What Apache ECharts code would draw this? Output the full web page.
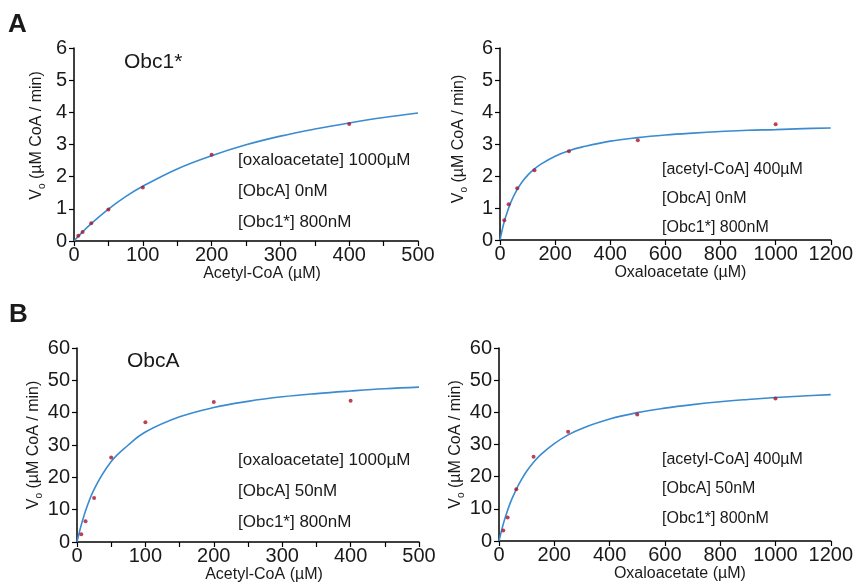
<!DOCTYPE html>
<html>
<head>
<meta charset="utf-8">
<script src="https://cdn.jsdelivr.net/npm/echarts@6/dist/echarts.min.js"></script>
<style>
  html, body { margin: 0; padding: 0; background: #fff; }
  #chart { width: 856px; height: 584px; }
</style>
</head>
<body>
<div id="chart"></div>
<script>
// Substrate concentrations (µM) and initial rates (µM CoA / min)
const acetylCoA = [6.25, 12.5, 25, 50, 100, 200, 400];
const oxaloacetate = [15.6, 31.25, 62.5, 125, 250, 500, 1000];

const rateObc1Acetyl = [0.16, 0.28, 0.55, 0.98, 1.66, 2.68, 3.64];
const rateObc1Oxalo = [0.62, 1.12, 1.62, 2.18, 2.77, 3.12, 3.62];
const rateObcAAcetyl = [2.4, 6.4, 13.6, 26.1, 37.0, 43.3, 43.7];
const rateObcAOxalo = [3.3, 7.3, 16.1, 26.2, 34.0, 39.3, 44.3];

// Fitted saturation curves
const fitAcetylX = [0, 10, 25, 50, 75, 100, 150, 200, 250, 300, 350, 400, 450, 500];
const fitObc1AcetylY = [0, 0.23, 0.54, 0.99, 1.38, 1.70, 2.24, 2.65, 2.99, 3.26, 3.48, 3.67, 3.84, 3.98];
const fitObcAAcetylY = [0, 8.0, 16.3, 24.9, 30.0, 34.0, 38.7, 41.6, 43.5, 44.9, 45.9, 46.7, 47.4, 47.9];

const fitOxaloX = [0, 10, 20, 40, 60, 80, 100, 125, 150, 200, 250, 300, 400, 500, 600, 700, 800, 900, 1000, 1100, 1200];
const fitObc1OxaloY = [0, 0.39, 0.71, 1.19, 1.54, 1.81, 2.02, 2.22, 2.38, 2.62, 2.79, 2.91, 3.09, 3.20, 3.28, 3.34, 3.39, 3.43, 3.45, 3.48, 3.50];
const fitObcAOxaloY = [0, 3.5, 6.6, 11.7, 15.6, 18.9, 21.7, 24.5, 26.8, 30.3, 33.0, 35.0, 37.9, 39.9, 41.3, 42.4, 43.3, 44.0, 44.6, 45.1, 45.5];

const xTitles = ['Acetyl-CoA (µM)', 'Oxaloacetate (µM)', 'Acetyl-CoA (µM)', 'Oxaloacetate (µM)'];
const enzymeLabels = ['Obc1*', 'ObcA'];
const conditionsA = [
  ['[oxaloacetate] 1000µM', '[ObcA] 0nM', '[Obc1*] 800nM'],
  ['[acetyl-CoA] 400µM', '[ObcA] 0nM', '[Obc1*] 800nM']
];
const conditionsB = [
  ['[oxaloacetate] 1000µM', '[ObcA] 50nM', '[Obc1*] 800nM'],
  ['[acetyl-CoA] 400µM', '[ObcA] 50nM', '[Obc1*] 800nM']
];

const FONT = '"Liberation Sans", Arial, Helvetica, sans-serif';
const TEXT = '#1a1a1a';
const CURVE = '#3a8bd0';
const DOT = '#a8142c';

const zip = (xs, ys) => xs.map((x, i) => [x, ys[i]]);

const grids = [
  { left: 74, top: 48, width: 344, height: 193 },
  { left: 500, top: 48, width: 342, height: 192 },
  { left: 77, top: 348, width: 342, height: 194 },
  { left: 499, top: 348, width: 342, height: 193 }
];

const xCfg = [
  { max: 500, interval: 100, minor: true, shift: 32 },
  { max: 1200, interval: 200, minor: false, shift: 30 },
  { max: 500, interval: 100, minor: true, shift: 32 },
  { max: 1200, interval: 200, minor: false, shift: 30 }
];
const yCfg = [
  { max: 6, interval: 1, shift: 18, gap: 27 },
  { max: 6, interval: 1, shift: 10, gap: 31 },
  { max: 60, interval: 10, shift: 0, gap: 30 },
  { max: 60, interval: 10, shift: 0, gap: 30 }
];

const axisLine = { show: true, lineStyle: { color: '#000', width: 1.5 } };
const plain = v => String(v);

const xAxis = xCfg.map((c, i) => ({
  type: 'value', gridIndex: i, min: 0, max: c.max, interval: c.interval,
  name: xTitles[i], nameLocation: 'middle', nameGap: 21,
  nameTextStyle: { fontFamily: FONT, fontSize: 16, color: TEXT, padding: [0, 0, 0, c.shift] },
  axisLine: axisLine,
  axisTick: { show: true, length: 5, lineStyle: { color: '#000', width: 1.2 } },
  minorTick: { show: c.minor, splitNumber: 2, length: 5, lineStyle: { color: '#000', width: 1.2 } },
  axisLabel: { fontFamily: FONT, fontSize: 20, color: TEXT, margin: 4, formatter: plain },
  splitLine: { show: false }
}));

const yAxis = yCfg.map((c, i) => ({
  type: 'value', gridIndex: i, min: 0, max: c.max, interval: c.interval,
  name: '{a|V}{b|o}{a| (µM CoA / min)}', nameLocation: 'middle', nameGap: c.gap,
  nameTextStyle: {
    padding: [0, 0, 0, c.shift],
    rich: {
      a: { fontFamily: FONT, fontSize: 16, color: TEXT, lineHeight: 20 },
      b: { fontFamily: FONT, fontSize: 10, color: TEXT, lineHeight: 20, verticalAlign: 'bottom', padding: [6, 0, 0, 0] }
    }
  },
  axisLine: axisLine,
  axisTick: { show: true, length: 5, lineStyle: { color: '#000', width: 1.2 } },
  axisLabel: { fontFamily: FONT, fontSize: 20, color: TEXT, margin: 7, formatter: plain },
  splitLine: { show: false }
}));

const pointsSets = [
  zip(acetylCoA, rateObc1Acetyl),
  zip(oxaloacetate, rateObc1Oxalo),
  zip(acetylCoA, rateObcAAcetyl),
  zip(oxaloacetate, rateObcAOxalo)
];
const curveSets = [
  zip(fitAcetylX, fitObc1AcetylY),
  zip(fitOxaloX, fitObc1OxaloY),
  zip(fitAcetylX, fitObcAAcetylY),
  zip(fitOxaloX, fitObcAOxaloY)
];

const series = [];
for (let i = 0; i < 4; i++) {
  series.push({
    type: 'line', xAxisIndex: i, yAxisIndex: i, data: curveSets[i],
    smooth: 0.4, showSymbol: false, silent: true,
    lineStyle: { color: CURVE, width: 1.6 }, z: 2
  });
  series.push({
    type: 'scatter', xAxisIndex: i, yAxisIndex: i, data: pointsSets[i],
    symbol: 'circle', symbolSize: 4, itemStyle: { color: DOT }, z: 3
  });
}

const graphic = [];
function addText(x, y, text, size, weight) {
  graphic.push({
    type: 'text', left: x, top: y,
    style: { text: text, fontFamily: FONT, fontSize: size, fontWeight: weight || 'normal', fill: TEXT }
  });
}
addText(8, 12, 'A', 26, 'bold');
addText(9, 302, 'B', 26, 'bold');
addText(124, 52, enzymeLabels[0], 21);
addText(127, 351, enzymeLabels[1], 21);

const condPos = [
  { x: 238, ys: [152, 183, 214], size: 17, set: conditionsA[0] },
  { x: 662, ys: [162, 191, 220], size: 16, set: conditionsA[1] },
  { x: 238, ys: [452, 483, 514], size: 17, set: conditionsB[0] },
  { x: 662, ys: [452, 481, 511], size: 16, set: conditionsB[1] }
];
condPos.forEach(c => c.set.forEach((t, k) => addText(c.x, c.ys[k], t, c.size)));

const chart = echarts.init(document.getElementById('chart'), null, { renderer: 'canvas' });
chart.setOption({
  animation: false,
  backgroundColor: '#fff',
  grid: grids,
  xAxis: xAxis,
  yAxis: yAxis,
  series: series,
  graphic: graphic
});
</script>
</body>
</html>
